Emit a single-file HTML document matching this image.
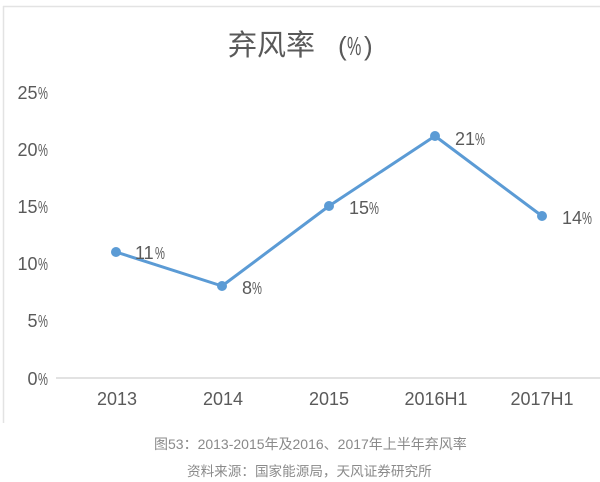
<!DOCTYPE html>
<html>
<head>
<meta charset="utf-8">
<style>
  html,body{margin:0;padding:0;background:#fff;}
  body{width:600px;height:482px;overflow:hidden;position:relative;}
  svg{position:absolute;left:0;top:0;}
  .ax{font-family:"Liberation Sans","Noto Sans CJK SC",sans-serif;font-size:18px;fill:#5a5a5a;}
  .cap{font-family:"Liberation Sans","Noto Sans CJK SC",sans-serif;fill:#8a8a8a;}
</style>
</head>
<body>
<svg width="600" height="482" viewBox="0 0 600 482" xmlns="http://www.w3.org/2000/svg">
  <!-- chart frame -->
  <line x1="3" y1="6.5" x2="600" y2="6.5" stroke="#e3e3e3" stroke-width="1.5"/>
  <line x1="3.5" y1="6" x2="3.5" y2="423" stroke="#e3e3e3" stroke-width="1.5"/>

  <!-- title -->
  <g font-family="'Liberation Sans','Noto Sans CJK SC',sans-serif" fill="#595959">
    <text x="228" y="55" font-size="29">弃风率</text>
    <text x="338" y="55" font-size="26">(</text>
    <text transform="translate(347,55) scale(0.62,1)" font-size="26">%</text>
    <text x="364" y="55" font-size="26">)</text>
  </g>

  <!-- y axis labels -->
  <g class="ax">
    <text x="37.5" y="99" text-anchor="end">25</text>
    <text transform="translate(38,99) scale(0.62,1)">%</text>
    <text x="37.5" y="156" text-anchor="end">20</text>
    <text transform="translate(38,156) scale(0.62,1)">%</text>
    <text x="37.5" y="213" text-anchor="end">15</text>
    <text transform="translate(38,213) scale(0.62,1)">%</text>
    <text x="37.5" y="270" text-anchor="end">10</text>
    <text transform="translate(38,270) scale(0.62,1)">%</text>
    <text x="37.5" y="327" text-anchor="end">5</text>
    <text transform="translate(38,327) scale(0.62,1)">%</text>
    <text x="37.5" y="385" text-anchor="end">0</text>
    <text transform="translate(38,385) scale(0.62,1)">%</text>
  </g>

  <!-- baseline -->
  <line x1="56" y1="378" x2="600" y2="378" stroke="#d9d9d9" stroke-width="1.5"/>

  <!-- x labels -->
  <g class="ax" text-anchor="middle">
    <text x="117" y="405">2013</text>
    <text x="223" y="405">2014</text>
    <text x="329" y="405">2015</text>
    <text x="436" y="405">2016H1</text>
    <text x="542" y="405">2017H1</text>
  </g>

  <!-- series -->
  <polyline points="116,252 222,286 329,206 435,136 542,216" fill="none" stroke="#5B9BD5" stroke-width="3" stroke-linejoin="round" stroke-linecap="round"/>
  <g fill="#5B9BD5">
    <circle cx="116" cy="252" r="5"/>
    <circle cx="222" cy="286" r="5"/>
    <circle cx="329" cy="206" r="5"/>
    <circle cx="435" cy="136" r="5"/>
    <circle cx="542" cy="216" r="5"/>
  </g>

  <!-- data labels -->
  <g class="ax">
    <text x="135" y="259">11</text>
    <text transform="translate(155,259) scale(0.62,1)">%</text>
    <text x="242" y="294">8</text>
    <text transform="translate(252,294) scale(0.62,1)">%</text>
    <text x="349" y="214">15</text>
    <text transform="translate(369,214) scale(0.62,1)">%</text>
    <text x="455" y="145">21</text>
    <text transform="translate(475,145) scale(0.62,1)">%</text>
    <text x="562" y="224">14</text>
    <text transform="translate(582,224) scale(0.62,1)">%</text>
  </g>

  <!-- captions -->
  <text class="cap" x="154" y="449" font-size="14">图53：2013-2015年及2016、2017年上半年弃风率</text>
  <text class="cap" x="187" y="476" font-size="13.6">资料来源：国家能源局，天风证券研究所</text>
</svg>
</body>
</html>
